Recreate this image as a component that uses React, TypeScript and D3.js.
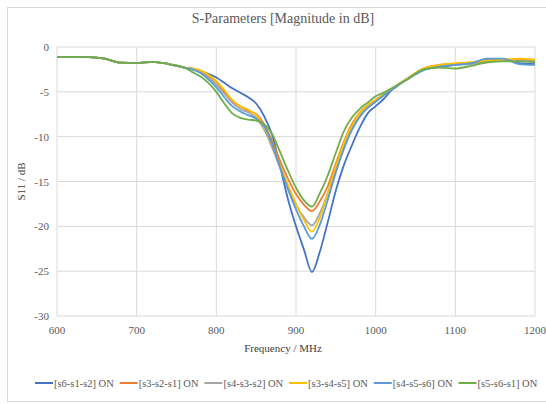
import React from "react";
import * as d3 from "d3";

const freqs = [600, 620, 640, 660, 680, 700, 720, 740, 760,
  770, 780, 790, 800, 810, 820, 830, 840, 850, 860, 870, 880, 890, 900, 910, 920,
  930, 940, 950, 960, 970, 980, 990, 1000, 1010, 1020,
  1040, 1060, 1080, 1100, 1120, 1140, 1160, 1180, 1200];

const s6s1s2 = [-1.1, -1.1, -1.12, -1.3, -1.75, -1.8, -1.65, -1.9, -2.3,
  -2.5, -2.7, -3.0, -3.4, -4.0, -4.6, -5.1, -5.6, -6.3, -7.7, -9.8, -13.3, -17.0, -20.0, -22.6, -25.1,
  -22.8, -19.5, -16.0, -13.2, -11.0, -9.0, -7.4, -6.6, -5.8, -4.8,
  -3.5, -2.5, -2.2, -2.0, -1.8, -1.4, -1.4, -1.8, -1.9];
const s3s2s1 = [-1.1, -1.1, -1.12, -1.3, -1.75, -1.8, -1.65, -1.9, -2.3,
  -2.4, -2.7, -3.2, -3.9, -5.0, -6.0, -6.6, -7.1, -7.5, -8.6, -10.5, -12.7, -14.7, -16.4, -17.6, -18.3,
  -17.2, -15.5, -13.0, -10.6, -8.6, -7.3, -6.5, -5.9, -5.3, -4.7,
  -3.5, -2.4, -2.0, -1.9, -1.8, -1.6, -1.5, -1.4, -1.5];
const s4s3s2 = [-1.1, -1.1, -1.12, -1.3, -1.75, -1.8, -1.65, -1.9, -2.3,
  -2.4, -2.8, -3.4, -4.2, -5.2, -6.2, -6.9, -7.3, -7.9, -9.2, -11.2, -13.5, -15.6, -17.6, -19.0, -19.9,
  -18.5, -16.3, -13.5, -11.0, -9.0, -7.6, -6.6, -5.9, -5.3, -4.7,
  -3.5, -2.5, -2.1, -2.0, -1.9, -1.7, -1.5, -1.5, -1.6];
const s3s4s5 = [-1.1, -1.1, -1.12, -1.3, -1.75, -1.8, -1.65, -1.9, -2.3,
  -2.4, -2.6, -3.1, -3.8, -4.8, -5.9, -6.6, -7.0, -7.6, -8.9, -10.9, -13.2, -15.4, -17.5, -19.3, -20.6,
  -19.0, -16.3, -13.3, -10.8, -8.8, -7.4, -6.5, -5.9, -5.3, -4.7,
  -3.5, -2.4, -2.0, -1.8, -1.7, -1.5, -1.4, -1.3, -1.4];
const s4s5s6 = [-1.1, -1.1, -1.12, -1.3, -1.75, -1.8, -1.65, -1.9, -2.3,
  -2.5, -2.9, -3.6, -4.5, -5.6, -6.6, -7.2, -7.6, -8.0, -8.8, -10.8, -13.4, -15.9, -18.1, -20.0, -21.4,
  -19.8, -17.0, -14.0, -11.4, -9.3, -7.8, -6.8, -6.1, -5.4, -4.8,
  -3.6, -2.6, -2.2, -2.0, -1.8, -1.3, -1.3, -1.9, -2.0];
const s5s6s1 = [-1.1, -1.1, -1.12, -1.3, -1.75, -1.8, -1.65, -1.9, -2.3,
  -2.8, -3.3, -4.0, -5.0, -6.3, -7.4, -7.9, -8.1, -8.2, -8.6, -9.7, -11.7, -13.8, -15.7, -17.1, -17.8,
  -16.3, -14.3, -11.8, -9.4, -7.9, -6.9, -6.2, -5.5, -5.1, -4.6,
  -3.6, -2.5, -2.3, -2.4, -2.1, -1.7, -1.6, -1.6, -1.7];

const seriesNames = ["[s6-s1-s2] ON", "[s3-s2-s1] ON", "[s4-s3-s2] ON", "[s3-s4-s5] ON", "[s4-s5-s6] ON", "[s5-s6-s1] ON"];
const seriesValues = [s6s1s2, s3s2s1, s4s3s2, s3s4s5, s4s5s6, s5s6s1];
const seriesColors = ["#4472C4", "#ED7D31", "#A5A5A5", "#FFC000", "#5B9BD5", "#70AD47"];
const xTicks = [600, 700, 800, 900, 1000, 1100, 1200];
const yTicks = [0, -5, -10, -15, -20, -25, -30];

const W = 546, H = 404;
const left = 57, right = 535, top = 47, bottom = 316;
const font = "'Liberation Serif', 'Times New Roman', serif";
const textColor = "#595959";

export default function App() {
  const x = d3.scaleLinear().domain([600, 1200]).range([left, right]);
  const y = d3.scaleLinear().domain([0, -30]).range([top, bottom]);
  const line = d3.line<number>()
    .x((_, i) => x(freqs[i]))
    .y((d) => y(d))
    .curve(d3.curveMonotoneX);
  const legendStart = 35;
  const legendStep = 84.7;
  return (
    <svg width={W} height={H} style={{ position: "absolute", left: 0, top: 0, background: "#fff" }} fontFamily={font}>
      <rect x={7.5} y={7.5} width={560} height={394} fill="#fff" stroke="#d9d9d9" />
      <text x={283} y={23} textAnchor="middle" fontSize={14} fill={textColor}>S-Parameters  [Magnitude  in  dB]</text>
      {yTicks.map((t) => (
        <g key={"y" + t}>
          <line x1={left} x2={right} y1={y(t)} y2={y(t)} stroke="#d9d9d9" strokeWidth={1} />
          <text x={49} y={y(t) + 4} textAnchor="end" fontSize={11} fill={textColor}>{t}</text>
        </g>
      ))}
      {xTicks.map((t) => (
        <g key={"x" + t}>
          <line x1={x(t)} x2={x(t)} y1={top} y2={bottom} stroke="#d9d9d9" strokeWidth={1} />
          <text x={x(t)} y={334} textAnchor="middle" fontSize={11} fill={textColor}>{t}</text>
        </g>
      ))}
      <text x={283} y={352} textAnchor="middle" fontSize={11} fill="#404040">Frequency  / MHz</text>
      <text transform={`translate(25,${(top + bottom) / 2}) rotate(-90)`} textAnchor="middle" fontSize={11} fill="#404040">S11 / dB</text>
      {seriesValues.map((vals, i) => (
        <path key={seriesNames[i]} d={line(vals) || ""} fill="none" stroke={seriesColors[i]} strokeWidth={1.8} strokeLinejoin="round" />
      ))}
      {seriesNames.map((n, i) => {
        const lx = legendStart + i * legendStep;
        return (
          <g key={"l" + n}>
            <line x1={lx} x2={lx + 18} y1={383} y2={383} stroke={seriesColors[i]} strokeWidth={2} />
            <text x={lx + 19} y={387} fontSize={10.5} fill={textColor}>{n}</text>
          </g>
        );
      })}
    </svg>
  );
}
